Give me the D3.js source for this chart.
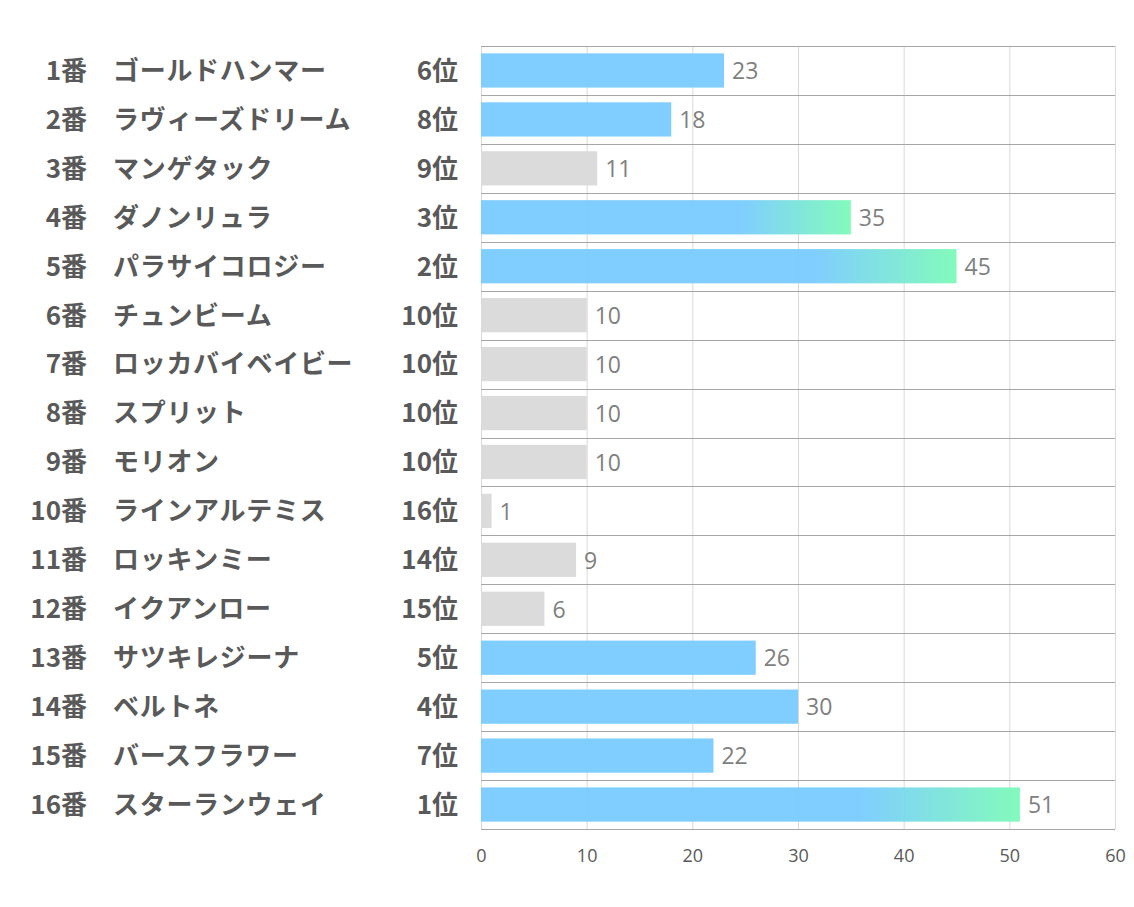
<!DOCTYPE html>
<html>
<head>
<meta charset="utf-8">
<script src="https://cdn.jsdelivr.net/npm/d3@7"></script>
<style>
  body { margin: 0; background: #fff; }
</style>
</head>
<body>
<svg id="chart" width="1134" height="907"></svg>
<script>
let horseNames = ["ゴールドハンマー", "ラヴィーズドリーム", "マンゲタック", "ダノンリュラ", "パラサイコロジー",
    "チュンビーム", "ロッカバイベイビー", "スプリット", "モリオン", "ラインアルテミス",
    "ロッキンミー", "イクアンロー", "サツキレジーナ", "ベルトネ", "バースフラワー", "スターランウェイ"];
let scores = [23, 18, 11, 35, 45, 10, 10, 10, 10, 1, 9, 6, 26, 30, 22, 51];
let ranks = [6, 8, 9, 3, 2, 10, 10, 10, 10, 16, 14, 15, 5, 4, 7, 1];
let xTicks = [0, 10, 20, 30, 40, 50, 60];

let jpFont = "'Noto Sans CJK JP', 'Noto Sans', sans-serif";
let numFont = "'Open Sans', 'Noto Sans', sans-serif";

function drawChart(svgId) {
    let svg = d3.select(svgId);

    let left = 481, right = 1115, top = 46, bottom = 829;

    let rows = horseNames.map((name, i) => ({num: i + 1, name: name, score: scores[i], rank: ranks[i]}));

    let x = d3.scaleLinear().domain([0, 60]).range([left, right]);
    let y = d3.scaleBand()
        .domain(rows.map(d => d.num))
        .range([top, bottom])
        .paddingInner(0.3)
        .paddingOuter(0.15);
    let step = y.step();

    // gradient for top 3
    let defs = svg.append("defs");
    let grad = defs.append("linearGradient")
        .attr("id", "topGrad")
        .attr("x1", "0").attr("x2", "1").attr("y1", "0").attr("y2", "0");
    grad.append("stop").attr("offset", "0.7").attr("stop-color", "#79CBFF");
    grad.append("stop").attr("offset", "1").attr("stop-color", "#7CFAB8");

    // vertical grid
    svg.append("g").selectAll("line")
        .data(xTicks)
        .enter().append("line")
        .attr("x1", d => x(d) + 0.5).attr("x2", d => x(d) + 0.5)
        .attr("y1", top).attr("y2", bottom)
        .style("stroke", "#d9d9d9")
        .style("stroke-width", 1);

    // bars
    svg.append("g").selectAll("rect")
        .data(rows)
        .enter().append("rect")
        .attr("x", x(0))
        .attr("y", d => y(d.num))
        .attr("width", d => x(d.score) - x(0))
        .attr("height", y.bandwidth())
        .style("fill", d => d.rank <= 3 ? "url(#topGrad)" : (d.rank <= 8 ? "#79CBFF" : "#D9D9D9"))
        .style("fill-opacity", 0.95);

    // row separators
    let seps = d3.range(rows.length + 1).map(i => top + i * step);
    svg.append("g").selectAll("line")
        .data(seps)
        .enter().append("line")
        .attr("x1", left).attr("x2", right)
        .attr("y1", d => Math.round(d) + 0.5).attr("y2", d => Math.round(d) + 0.5)
        .style("stroke", "#a6a6a6")
        .style("stroke-width", 1);

    // value labels
    svg.append("g").selectAll("text")
        .data(rows)
        .enter().append("text")
        .attr("x", d => x(d.score) + 8)
        .attr("y", d => y(d.num) + y.bandwidth() / 2)
        .attr("dy", "0.38em")
        .text(d => d.score)
        .style("font-family", numFont)
        .style("font-size", "23px")
        .style("fill", "#7f7f7f");

    // left labels
    let labelG = svg.append("g")
        .style("font-family", jpFont)
        .style("font-weight", "bold")
        .style("font-size", "26px")
        .style("fill", "#595959");
    let lab = labelG.selectAll("g")
        .data(rows)
        .enter().append("g")
        .attr("transform", d => "translate(0," + (y(d.num) + y.bandwidth() / 2) + ")");
    lab.append("text")
        .attr("x", 87)
        .attr("dy", "0.36em")
        .style("text-anchor", "end")
        .text(d => d.num + "番");
    lab.append("text")
        .attr("x", 113)
        .attr("dy", "0.36em")
        .style("letter-spacing", "0.7px")
        .text(d => d.name);
    lab.append("text")
        .attr("x", 458)
        .attr("dy", "0.36em")
        .style("text-anchor", "end")
        .text(d => d.rank + "位");

    // x axis
    let xAxis = d3.axisBottom(x).tickValues(xTicks).tickSize(0).tickPadding(20);
    let axG = svg.append("g")
        .attr("transform", "translate(0," + bottom + ")")
        .call(xAxis);
    axG.select(".domain").remove();
    axG.selectAll("text")
        .style("font-family", numFont)
        .style("font-size", "18px")
        .style("fill", "#595959");
}

drawChart("#chart");
</script>
</body>
</html>
